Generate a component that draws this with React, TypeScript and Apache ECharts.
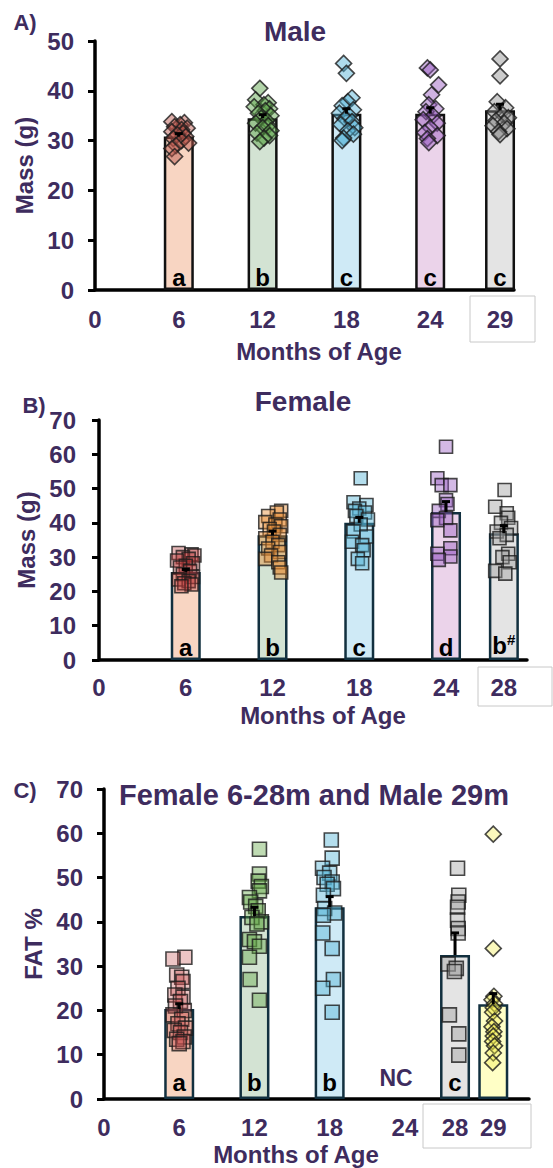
import React, { useEffect, useRef } from "react";
import * as echarts from "echarts";

const PURPLE = "#3e2c5e";
const FONT = "'Liberation Sans', Arial, Helvetica, sans-serif";

// ---------- Panel A: Male mass (g) ----------
const A_AGES = [6, 12, 18, 24, 29];
const A_MEANS = [30.8, 34.5, 35.4, 35.4, 36.1];
const A_SEM = [0.6, 0.7, 1.0, 1.2, 1.2];
const A_LETTERS = ["a", "b", "c", "c", "c"];
const A_TICKS = [0, 6, 12, 18, 24, 29];
const A_V6 = [33.8, 33.6, 33.2, 32.8, 32.5, 32.2, 31.8, 31.5, 31.2, 30.8, 30.4, 30, 29.5, 29, 28.4, 26.8];
const A_J6 = [-0.5, 0.4, 0.1, -0.3, 0.6, 0.2, -0.5, 0.3, -0.1, 0.5, -0.4, 0.2, 0.7, -0.2, -0.5, -0.3];
const A_V12 = [40.5, 38.2, 37.6, 37.2, 36.8, 36.4, 36, 35.5, 35, 34.5, 34, 33.5, 33, 32.6, 32, 31.5, 31, 30.5, 29.8];
const A_J12 = [-0.2, -0.5, 0.4, 0.1, -0.6, 0.5, 0.2, -0.3, 0.6, -0.1, 0.3, -0.5, 0.4, 0, 0.6, -0.4, 0.5, 0.1, -0.2];
const A_V18 = [45.5, 43.5, 38.6, 37.8, 37, 36.2, 35.5, 35, 34.4, 33.8, 33.2, 32.6, 32, 31.3, 30.5, 30];
const A_J18 = [-0.2, 0.0, 0.4, 0.1, -0.3, 0.5, -0.5, 0.2, -0.1, 0.4, -0.4, 0.6, 0.1, 0.5, -0.2, -0.3];
const A_V24 = [44.6, 44.2, 41.2, 39.2, 37.2, 36.4, 35.8, 35, 34.2, 33.5, 32.6, 31.6, 31, 30.4, 29.6];
const A_J24 = [-0.2, 0, 0.6, 0.1, -0.1, 0.4, -0.3, 0.2, -0.5, 0.5, 0, -0.4, 0.5, -0.2, -0.1];
const A_V29 = [46.4, 43, 37.8, 36.6, 35.8, 35.2, 34.6, 34, 33.5, 33, 32.4, 31.8, 31.2];
const A_J29 = [0, 0, -0.2, 0.4, -0.4, 0.2, 0.6, -0.3, 0.3, -0.5, 0.5, -0.1, 0];

// ---------- Panel B: Female mass (g) ----------
const B_AGES = [6, 12, 18, 24, 28];
const B_MEANS = [25.7, 36.4, 40.0, 43.2, 37.0];
const B_SEM = [0.7, 1.2, 1.6, 3.0, 2.2];
const B_LETTERS = ["a", "b", "c", "d", "b#"];
const B_TICKS = [0, 6, 12, 18, 24, 28];
const B_V6 = [31.2, 30.8, 30.5, 30, 29.5, 29, 28.2, 27.5, 27, 26, 25, 24.2, 23.5, 23, 22.4, 22, 21.5];
const B_J6 = [-0.5, 0.4, 0.6, -0.2, 0.2, -0.6, 0.5, 0, -0.4, 0.3, -0.2, 0.5, -0.5, 0.2, -0.1, 0.4, -0.3];
const B_V12 = [43.5, 43, 42, 41, 40.2, 39.5, 39, 38.2, 37.5, 36.5, 35.5, 34.5, 33.5, 32.5, 31.5, 30.5, 29.5, 28.5, 27, 25.5];
const B_J12 = [0.6, 0.3, -0.3, 0.5, -0.5, 0.2, 0.6, -0.2, 0.1, 0.5, -0.5, 0, 0.4, -0.3, 0.5, -0.1, -0.5, 0.4, 0.5, 0.6];
const B_V18 = [53, 46, 45.2, 44.2, 43.5, 43, 42, 41, 39.5, 37.5, 36, 34.5, 33.5, 32, 29.5, 28.2];
const B_J18 = [0.1, -0.4, 0.5, 0, -0.3, 0.4, -0.2, 0.6, 0.1, -0.4, 0.5, -0.5, 0.2, 0.3, -0.1, 0.2];
const B_V24 = [62.2, 53, 51, 51, 46.6, 45.5, 43.5, 41.4, 40.8, 37.8, 32.6, 31, 30.2, 29.2];
const B_J24 = [0, -0.6, -0.3, 0.3, 0, 0.1, -0.5, 0, -0.6, 0.3, 0.3, -0.6, 0.3, -0.5];
const B_V28 = [49.6, 44.7, 42.8, 41.5, 40, 38.5, 37.5, 36.5, 35.5, 31, 30, 28.5, 26, 25.2];
const B_J28 = [0.05, -0.6, 0.2, 0.3, -0.2, 0.5, -0.5, 0.2, -0.3, 0.3, -0.1, 0.4, -0.6, 0.1];

// ---------- Panel C: FAT % ----------
const C_POS = [6, 12, 18, 28, 31.05];
const C_MEANS = [20.3, 41.3, 43.3, 32.5, 21.4];
const C_SEM = [1.2, 2.0, 2.4, 5.0, 2.4];
const C_LETTERS = ["a", "b", "b", "c", ""];
const C_TICKS = [0, 6, 12, 18, 24, 28, 31.05];
const C_TICK_LABELS = ["0", "6", "12", "18", "24", "28", "29"];
const C_NC_POS = 23.3;
const C_V6 = [32, 31.6, 28, 27.5, 26.5, 25, 23.5, 23, 22, 21, 20, 19, 18, 17, 16, 15.5, 15, 14, 13.5, 13, 12.5];
const C_J6 = [0.45, -0.5, -0.2, 0.2, 0.3, -0.1, -0.35, 0.3, 0.1, -0.3, 0.4, -0.5, 0.2, -0.1, 0.5, -0.4, 0.1, 0.4, -0.2, 0.3, 0];
const C_V12 = [56.4, 50.8, 49.2, 48, 47, 45.5, 44.5, 43.5, 42.5, 41, 40, 39.5, 36, 35.5, 34.5, 32, 27, 22.3];
const C_J12 = [0.4, 0.4, 0.3, 0.55, 0.4, -0.4, -0.3, 0.1, 0.3, -0.2, 0.55, 0.2, -0.4, 0.0, 0.4, -0.4, -0.35, 0.4];
const C_V18 = [58.5, 54.4, 52.1, 51, 50, 49, 48.5, 47.5, 46, 43, 42, 41.5, 37.5, 34, 27, 25, 19.6];
const C_J18 = [0.13, 0.2, -0.57, 0.0, -0.45, 0.2, -0.2, 0.3, -0.5, -0.4, 0.4, -0.5, -0.55, 0.2, 0.3, -0.55, 0.2];
const C_V28 = [52.1, 46, 44.5, 43.3, 40.4, 38.5, 37.5, 30.5, 29.5, 28.8, 19, 14.7, 9.9];
const C_J28 = [0.2, 0.3, 0.25, 0.2, 0.2, 0.25, 0.25, -0.55, 0.1, -0.05, -0.45, 0.3, 0.3];
const C_V29 = [59.8, 34, 23.2, 22.4, 21.5, 20.6, 19.6, 17.6, 16.3, 15.2, 14.2, 13, 12, 10.4, 8.2];
const C_J29 = [0, 0, 0.05, -0.1, 0.1, 0, -0.05, 0.1, -0.1, 0.05, 0, -0.05, 0.1, 0, -0.05];

const BAR_FILLS = ["#f8d5c2", "#d3e3d3", "#cfeaf6", "#ebd3ea", "#e4e4e4"];
const C_BAR_FILLS = ["#f8d5c2", "#d3e3d3", "#cfeaf6", "#e4e4e4", "#ffffc6"];

function pts(center: number, vals: number[], jit: number[]) {
  return vals.map((v, i) => [center + jit[i], v]);
}

function scatter(gi: number, data: number[][], color: string, symbol: string, size: number) {
  return {
    type: "scatter",
    xAxisIndex: gi,
    yAxisIndex: gi,
    data,
    symbol,
    symbolSize: size,
    z: 3,
    itemStyle: { color, borderColor: "#1b1b1b", borderWidth: 1.6 },
    emphasis: { disabled: true },
  };
}

function bars(gi: number, xs: number[], means: number[], fills: string[], border: string, letters: string[], dist: number) {
  return {
    type: "bar",
    xAxisIndex: gi,
    yAxisIndex: gi,
    barWidth: 30,
    z: 2,
    data: xs.map((x, i) => ({
      value: [x, means[i]],
      itemStyle: { color: fills[i], borderColor: border, borderWidth: 2.5 },
    })),
    label: {
      show: true,
      position: "insideBottom",
      distance: dist,
      color: "#000",
      fontFamily: FONT,
      fontWeight: "bold",
      fontSize: 24,
      formatter: (p: any) => {
        const s = letters[p.dataIndex];
        if (s.endsWith("#")) return "{m|" + s.slice(0, -1) + "}{s|#}";
        return s;
      },
      rich: {
        m: { fontFamily: FONT, fontWeight: "bold", fontSize: 24, color: "#000" },
        s: { fontFamily: FONT, fontWeight: "bold", fontSize: 15, color: "#000", padding: [0, 0, 12, 0] },
      },
    },
  };
}

function errBars(gi: number, xs: number[], means: number[], sem: number[]) {
  return {
    type: "custom",
    xAxisIndex: gi,
    yAxisIndex: gi,
    z: 4,
    data: xs.map((x, i) => [x, means[i], sem[i]]),
    encode: { x: 0, y: 1 },
    renderItem: (_params: any, api: any) => {
      const x = api.value(0);
      const m = api.value(1);
      const s = api.value(2);
      const p0 = api.coord([x, m]);
      const p1 = api.coord([x, m + s]);
      const st = { stroke: "#000", lineWidth: 3 };
      return {
        type: "group",
        children: [
          { type: "line", shape: { x1: p0[0], y1: p0[1], x2: p1[0], y2: p1[1] }, style: st },
          { type: "line", shape: { x1: p1[0] - 4, y1: p1[1], x2: p1[0] + 4, y2: p1[1] }, style: st },
        ],
      };
    },
  };
}

function xAxis(gi: number, max: number, ticks: number[], labelFn: (v: number) => string, margin: number, gap: number, pad: number[]) {
  return {
    type: "value",
    gridIndex: gi,
    min: 0,
    max,
    splitLine: { show: false },
    axisTick: { show: false },
    axisLine: { show: true, onZero: false, lineStyle: { color: "#000", width: 3.5 } },
    axisLabel: {
      customValues: ticks,
      formatter: labelFn,
      color: PURPLE,
      fontFamily: FONT,
      fontWeight: "bold",
      fontSize: 24,
      margin,
      showMinLabel: true,
      showMaxLabel: true,
    },
    name: "Months of Age",
    nameLocation: "middle",
    nameGap: gap,
    nameTextStyle: { color: PURPLE, fontFamily: FONT, fontWeight: "bold", fontSize: 24, padding: pad },
  };
}

function yAxis(gi: number, max: number, name: string, margin: number, gap: number) {
  return {
    type: "value",
    gridIndex: gi,
    min: 0,
    max,
    interval: 10,
    splitLine: { show: false },
    axisLine: { show: true, lineStyle: { color: "#000", width: 3.5 } },
    axisTick: { show: true, inside: false, length: 7, lineStyle: { color: "#000", width: 3 } },
    axisLabel: { color: PURPLE, fontFamily: FONT, fontWeight: "bold", fontSize: 24, margin },
    name,
    nameLocation: "middle",
    nameGap: gap,
    nameTextStyle: { color: PURPLE, fontFamily: FONT, fontWeight: "bold", fontSize: 24 },
  };
}

function txt(x: number, y: number, text: string, size: number) {
  return {
    type: "text",
    x,
    y,
    style: {
      text,
      fill: PURPLE,
      font: `bold ${size}px ${FONT}`,
      align: "center",
      verticalAlign: "middle",
    },
  };
}

function box(x: number, y: number, w: number, h: number) {
  return {
    type: "rect",
    shape: { x, y, width: w, height: h },
    style: { fill: "none", stroke: "#c8c8c8", lineWidth: 1 },
  };
}

export default function App() {
  const ref = useRef<HTMLDivElement>(null);
  useEffect(() => {
    if (!ref.current) return;
    const chart = echarts.init(ref.current, undefined, { renderer: "svg" });
    const option: any = {
      animation: false,
      backgroundColor: "#ffffff",
      grid: [
        { left: 95, top: 41, width: 419, height: 249 },
        { left: 99, top: 420, width: 428, height: 240 },
        { left: 104, top: 789, width: 425, height: 310 },
      ],
      xAxis: [
        xAxis(0, 30, A_TICKS, (v: number) => String(v), 17, 49, [0, 0, 0, 29]),
        xAxis(1, 29.6, B_TICKS, (v: number) => String(v), 15, 43, [0, 0, 0, 20]),
        xAxis(2, 33.9, C_TICKS, (v: number) => {
          const i = C_TICKS.findIndex((t) => Math.abs(t - v) < 1e-6);
          return i >= 0 ? C_TICK_LABELS[i] : "";
        }, 16, 43, [0, 41, 0, 0]),
      ],
      yAxis: [
        yAxis(0, 50, "Mass (g)", 21, 56),
        yAxis(1, 70, "Mass (g)", 23, 52),
        yAxis(2, 70, "FAT %", 21, 57),
      ],
      graphic: [
        txt(25, 22, "A)", 22),
        txt(34, 405, "B)", 22),
        txt(25, 790, "C)", 22),
        txt(295, 31, "Male", 28),
        txt(303, 401, "Female", 28),
        txt(314, 795, "Female 6-28m and Male 29m", 29),
        box(470, 296, 65, 46),
        box(478, 667, 74, 39),
        box(423, 1104, 108, 44),
      ],
      series: [
        bars(0, A_AGES, A_MEANS, BAR_FILLS, "#111111", A_LETTERS, 1),
        scatter(0, pts(6, A_V6, A_J6), "rgba(185,85,75,0.6)", "diamond", 16),
        scatter(0, pts(12, A_V12, A_J12), "rgba(95,165,75,0.6)", "diamond", 16),
        scatter(0, pts(18, A_V18, A_J18), "rgba(85,180,215,0.6)", "diamond", 16),
        scatter(0, pts(24, A_V24, A_J24), "rgba(155,95,195,0.6)", "diamond", 16),
        scatter(0, pts(29, A_V29, A_J29), "rgba(140,140,140,0.55)", "diamond", 16),
        errBars(0, A_AGES, A_MEANS, A_SEM),

        bars(1, B_AGES, B_MEANS, BAR_FILLS, "#12303f", B_LETTERS, 1),
        scatter(1, pts(6, B_V6, B_J6), "rgba(185,55,55,0.45)", "rect", 13),
        scatter(1, pts(12, B_V12, B_J12), "rgba(230,140,50,0.55)", "rect", 13),
        scatter(1, pts(18, B_V18, B_J18), "rgba(85,180,215,0.55)", "rect", 13),
        scatter(1, pts(24, B_V24, B_J24), "rgba(155,95,195,0.55)", "rect", 13),
        scatter(1, pts(28, B_V28, B_J28), "rgba(150,150,150,0.5)", "rect", 13),
        errBars(1, B_AGES, B_MEANS, B_SEM),

        bars(2, C_POS, C_MEANS, C_BAR_FILLS, "#12303f", C_LETTERS, 5),
        scatter(2, pts(C_POS[0], C_V6, C_J6), "rgba(195,75,75,0.4)", "rect", 14),
        scatter(2, pts(C_POS[1], C_V12, C_J12), "rgba(95,165,65,0.5)", "rect", 14),
        scatter(2, pts(C_POS[2], C_V18, C_J18), "rgba(85,180,215,0.55)", "rect", 14),
        scatter(2, pts(C_POS[3], C_V28, C_J28), "rgba(155,155,155,0.5)", "rect", 14),
        scatter(2, pts(C_POS[4], C_V29, C_J29), "rgba(240,235,70,0.45)", "diamond", 16),
        errBars(2, C_POS, C_MEANS, C_SEM),
        {
          type: "scatter",
          xAxisIndex: 2,
          yAxisIndex: 2,
          symbol: "circle",
          symbolSize: 1,
          z: 5,
          itemStyle: { color: "rgba(0,0,0,0)", opacity: 1 },
          emphasis: { disabled: true },
          data: [[C_NC_POS, 0]],
          label: {
            show: true,
            position: "top",
            distance: 9,
            formatter: "NC",
            color: PURPLE,
            opacity: 1,
            fontFamily: FONT,
            fontWeight: "bold",
            fontSize: 23,
          },
        },
      ],
    };
    chart.setOption(option);
    return () => chart.dispose();
  }, []);
  return (
    <div
      ref={ref}
      style={{ position: "absolute", left: 0, top: 0, width: 553, height: 1168, background: "#fff" }}
    />
  );
}
